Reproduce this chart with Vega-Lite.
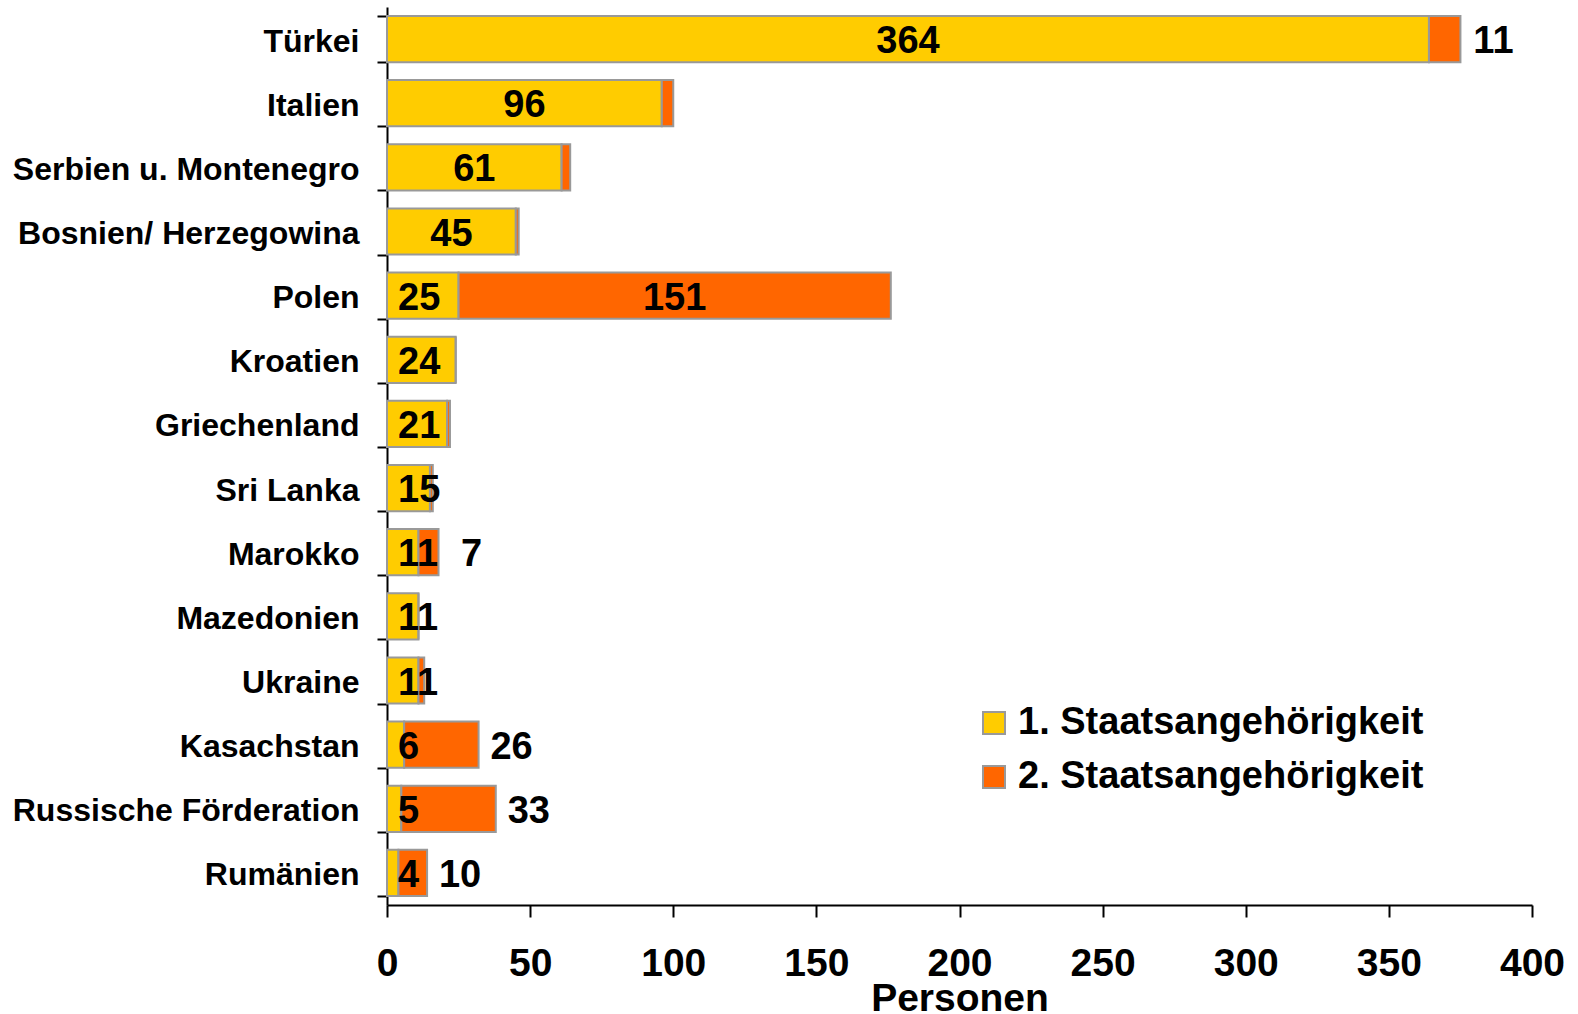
{
  "$schema": "https://vega.github.io/schema/vega-lite/v6.json",
  "width": 1145,
  "height": 898,
  "autosize": "none",
  "padding": {"left": 387, "top": 7, "right": 46, "bottom": 109},
  "background": "white",
  "config": {"view": {"stroke": null}, "font": "Liberation Sans"},
  "data": {
    "values": [
      {"Land": "Türkei", "Reihe": "1. Staatsangehörigkeit", "Personen": 364},
      {"Land": "Türkei", "Reihe": "2. Staatsangehörigkeit", "Personen": 11},
      {"Land": "Italien", "Reihe": "1. Staatsangehörigkeit", "Personen": 96},
      {"Land": "Italien", "Reihe": "2. Staatsangehörigkeit", "Personen": 4},
      {"Land": "Serbien u. Montenegro", "Reihe": "1. Staatsangehörigkeit", "Personen": 61},
      {"Land": "Serbien u. Montenegro", "Reihe": "2. Staatsangehörigkeit", "Personen": 3},
      {"Land": "Bosnien/ Herzegowina", "Reihe": "1. Staatsangehörigkeit", "Personen": 45},
      {"Land": "Bosnien/ Herzegowina", "Reihe": "2. Staatsangehörigkeit", "Personen": 1},
      {"Land": "Polen", "Reihe": "1. Staatsangehörigkeit", "Personen": 25},
      {"Land": "Polen", "Reihe": "2. Staatsangehörigkeit", "Personen": 151},
      {"Land": "Kroatien", "Reihe": "1. Staatsangehörigkeit", "Personen": 24},
      {"Land": "Kroatien", "Reihe": "2. Staatsangehörigkeit", "Personen": 0},
      {"Land": "Griechenland", "Reihe": "1. Staatsangehörigkeit", "Personen": 21},
      {"Land": "Griechenland", "Reihe": "2. Staatsangehörigkeit", "Personen": 1},
      {"Land": "Sri Lanka", "Reihe": "1. Staatsangehörigkeit", "Personen": 15},
      {"Land": "Sri Lanka", "Reihe": "2. Staatsangehörigkeit", "Personen": 1},
      {"Land": "Marokko", "Reihe": "1. Staatsangehörigkeit", "Personen": 11},
      {"Land": "Marokko", "Reihe": "2. Staatsangehörigkeit", "Personen": 7},
      {"Land": "Mazedonien", "Reihe": "1. Staatsangehörigkeit", "Personen": 11},
      {"Land": "Mazedonien", "Reihe": "2. Staatsangehörigkeit", "Personen": 0},
      {"Land": "Ukraine", "Reihe": "1. Staatsangehörigkeit", "Personen": 11},
      {"Land": "Ukraine", "Reihe": "2. Staatsangehörigkeit", "Personen": 2},
      {"Land": "Kasachstan", "Reihe": "1. Staatsangehörigkeit", "Personen": 6},
      {"Land": "Kasachstan", "Reihe": "2. Staatsangehörigkeit", "Personen": 26},
      {"Land": "Russische Förderation", "Reihe": "1. Staatsangehörigkeit", "Personen": 5},
      {"Land": "Russische Förderation", "Reihe": "2. Staatsangehörigkeit", "Personen": 33},
      {"Land": "Rumänien", "Reihe": "1. Staatsangehörigkeit", "Personen": 4},
      {"Land": "Rumänien", "Reihe": "2. Staatsangehörigkeit", "Personen": 10}
    ]
  },
  "encoding": {
    "y": {
      "field": "Land",
      "type": "nominal",
      "sort": ["Türkei", "Italien", "Serbien u. Montenegro", "Bosnien/ Herzegowina", "Polen", "Kroatien", "Griechenland", "Sri Lanka", "Marokko", "Mazedonien", "Ukraine", "Kasachstan", "Russische Förderation", "Rumänien"],
      "scale": {"paddingInner": 0.28, "paddingOuter": 0.14},
      "axis": {
        "title": null,
        "domainColor": "black",
        "domainWidth": 2,
        "tickColor": "black",
        "tickWidth": 2,
        "tickSize": 10,
        "tickBand": "extent",
        "labelFont": "Liberation Sans",
        "labelFontSize": 32,
        "labelFontWeight": "bold",
        "labelColor": "black",
        "labelPadding": 18,
        "labelOffset": 2,
        "labelLimit": 600
      }
    }
  },
  "layer": [
    {
      "mark": {"type": "bar", "stroke": "#999999", "strokeWidth": 2},
      "encoding": {
        "x": {
          "field": "Personen",
          "type": "quantitative",
          "stack": "zero",
          "title": "Personen",
          "scale": {"domain": [0, 400], "nice": false},
          "axis": {
            "values": [0, 50, 100, 150, 200, 250, 300, 350, 400],
            "grid": false,
            "domainColor": "black",
            "domainWidth": 2,
            "tickColor": "black",
            "tickWidth": 2,
            "tickSize": 12,
            "labelFont": "Liberation Sans",
            "labelFontSize": 39,
            "labelFontWeight": "bold",
            "labelColor": "black",
            "labelPadding": 27,
            "labelFlush": false,
            "titleFont": "Liberation Sans",
            "titleFontSize": 39,
            "titleFontWeight": "bold",
            "titleColor": "black",
            "titlePadding": -4
          }
        },
        "color": {
          "field": "Reihe",
          "type": "nominal",
          "scale": {"domain": ["1. Staatsangehörigkeit", "2. Staatsangehörigkeit"], "range": ["#FFCC00", "#FF6600"]},
          "legend": {
            "title": null,
            "orient": "none",
            "legendX": 588,
            "legendY": 697,
            "symbolType": "square",
            "symbolSize": 484,
            "symbolStrokeColor": "#999999",
            "symbolStrokeWidth": 2,
            "labelFont": "Liberation Sans",
            "labelFontSize": 38,
            "labelFontWeight": "bold",
            "labelColor": "black",
            "labelLimit": 800,
            "labelOffset": 5,
            "rowPadding": 16
          }
        }
      }
    },
    {
      "transform": [
        {"stack": "Personen", "groupby": ["Land"], "sort": [{"field": "Reihe", "order": "ascending"}], "as": ["p0", "p1"]},
        {"filter": "datum.Reihe == '1. Staatsangehörigkeit' && datum.Personen >= 30"},
        {"calculate": "(datum.p0 + datum.p1) / 2", "as": "pm"}
      ],
      "mark": {"type": "text", "font": "Liberation Sans", "fontSize": 38, "fontWeight": "bold", "align": "center", "baseline": "middle", "dy": 3, "color": "black"},
      "encoding": {
        "x": {"field": "pm", "type": "quantitative", "title": "Personen"},
        "text": {"field": "Personen", "type": "quantitative"}
      }
    },
    {
      "transform": [
        {"filter": "datum.Reihe == '1. Staatsangehörigkeit' && datum.Personen < 30"}
      ],
      "mark": {"type": "text", "font": "Liberation Sans", "fontSize": 38, "fontWeight": "bold", "align": "left", "baseline": "middle", "dx": 11, "dy": 3, "color": "black"},
      "encoding": {
        "x": {"datum": 0, "type": "quantitative", "title": "Personen"},
        "text": {"field": "Personen", "type": "quantitative"}
      }
    },
    {
      "transform": [
        {"stack": "Personen", "groupby": ["Land"], "sort": [{"field": "Reihe", "order": "ascending"}], "as": ["p0", "p1"]},
        {"filter": "datum.Reihe == '2. Staatsangehörigkeit' && datum.Personen >= 5 && datum.Personen < 100"}
      ],
      "mark": {"type": "text", "font": "Liberation Sans", "fontSize": 38, "fontWeight": "bold", "align": "center", "baseline": "middle", "dx": 33, "dy": 3, "color": "black"},
      "encoding": {
        "x": {"field": "p1", "type": "quantitative", "title": "Personen"},
        "text": {"field": "Personen", "type": "quantitative"}
      }
    },
    {
      "transform": [
        {"stack": "Personen", "groupby": ["Land"], "sort": [{"field": "Reihe", "order": "ascending"}], "as": ["p0", "p1"]},
        {"filter": "datum.Reihe == '2. Staatsangehörigkeit' && datum.Personen >= 100"},
        {"calculate": "(datum.p0 + datum.p1) / 2", "as": "pm"}
      ],
      "mark": {"type": "text", "font": "Liberation Sans", "fontSize": 38, "fontWeight": "bold", "align": "center", "baseline": "middle", "dy": 3, "color": "black"},
      "encoding": {
        "x": {"field": "pm", "type": "quantitative", "title": "Personen"},
        "text": {"field": "Personen", "type": "quantitative"}
      }
    }
  ]
}
